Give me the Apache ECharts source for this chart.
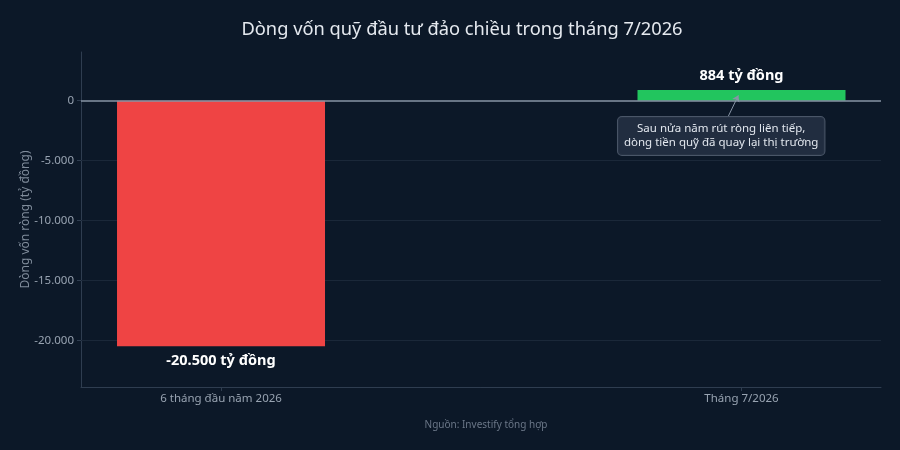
<!DOCTYPE html>
<html><head><meta charset="utf-8">
<script src="https://cdn.jsdelivr.net/npm/echarts@6/dist/echarts.min.js"></script>
<style>html,body{margin:0;padding:0;background:#0c1828;}#c{width:900px;height:450px;}</style>
</head><body><div id="c"></div>
<script>
const categories = ['6 tháng đầu năm 2026', 'Tháng 7/2026'];
const values = [-20500, 884];
const valueLabels = ['-20.500 tỷ đồng', '884 tỷ đồng'];
const yTicks = [-20000, -15000, -10000, -5000, 0];
const titleText = 'Dòng vốn quỹ đầu tư đảo chiều trong tháng 7/2026';
const yAxisTitle = 'Dòng vốn ròng (tỷ đồng)';
const sourceText = 'Nguồn: Investify tổng hợp';
const noteText = 'Sau nửa năm rút ròng liên tiếp,\ndòng tiền quỹ đã quay lại thị trường';

const FONT = 'Noto Sans';
const fmt = v => {
  const s = Math.abs(v).toString().replace(/\B(?=(\d{3})+(?!\d))/g, '.');
  return (v < 0 ? '-' : '') + s;
};

const chart = echarts.init(document.getElementById('c'));
const barData = values.map((v, i) => ({
  value: [i, v],
  itemStyle: { color: v < 0 ? '#ef4444' : '#22c55e' },
  label: { position: v < 0 ? 'bottom' : 'top', formatter: valueLabels[i] }
}));

chart.setOption({
  backgroundColor: '#0c1828',
  textStyle: { fontFamily: FONT },
  title: [
    { text: titleText, left: 457, top: 16, textAlign: 'center',
      textStyle: { color: '#e5e9ef', fontSize: 18.3, fontWeight: 'normal', fontFamily: FONT } },
    { text: sourceText, left: 481, top: 415, textAlign: 'center',
      textStyle: { color: '#6b7788', fontSize: 10, fontWeight: 'normal', fontFamily: FONT } }
  ],
  grid: { left: 81, right: 19, top: 52, bottom: 63 },
  xAxis: {
    type: 'value', min: -0.269, max: 1.268,
    axisLine: { show: true, onZero: false, lineStyle: { color: '#2f3d50', width: 1 } },
    axisTick: { show: true, customValues: [0, 1], length: 4, lineStyle: { color: '#2f3d50' } },
    axisLabel: { customValues: [0, 1], formatter: v => categories[Math.round(v)] || '',
      color: '#98a3b1', fontSize: 11.5, margin: 6, fontFamily: FONT },
    splitLine: { show: false }
  },
  yAxis: {
    type: 'value', min: -23900, max: 4060,
    name: yAxisTitle, nameLocation: 'middle', nameGap: 49, nameMoveOverlap: false,
    nameTextStyle: { color: '#7f8b9a', fontSize: 12, fontFamily: FONT },
    axisLine: { show: true, onZero: false, lineStyle: { color: '#2f3d50', width: 1 } },
    axisTick: { show: true, customValues: yTicks, length: 4, lineStyle: { color: '#2f3d50' } },
    axisLabel: { customValues: yTicks, formatter: v => fmt(v), color: '#98a3b1', fontSize: 11.5, margin: 7, fontFamily: FONT },
    splitLine: { show: false }
  },
  series: [
    {
      type: 'line', data: [], z: 1, silent: true,
      markLine: {
        z: 1, silent: true, symbol: ['none', 'none'], label: { show: false },
        lineStyle: { color: '#1b2839', width: 1, type: 'solid' },
        data: yTicks.filter(t => t !== 0).map(t => ({ yAxis: t }))
      }
    },
    {
      type: 'bar', data: barData, barWidth: 208, z: 3,
      label: { show: true, color: '#ffffff', fontSize: 14.5, fontWeight: 'bold', distance: 7, fontFamily: FONT },
      markPoint: {
        z: 6,
        symbol: 'rect', symbolSize: 1, itemStyle: { color: 'rgba(0,0,0,0)' },
        label: {
          show: true, position: 'inside', formatter: noteText,
          color: '#e2e7ee', fontSize: 11.5, lineHeight: 14, fontFamily: FONT, align: 'center',
          backgroundColor: 'rgba(36,48,66,0.92)', borderColor: '#4a5668', borderWidth: 1,
          borderRadius: 4, padding: [5, 6]
        },
        data: [{ coord: [0.961, -2950] }]
      }
    },
    {
      type: 'line', data: [], z: 5, silent: true,
      markLine: {
        z: 5, silent: true, label: { show: false },
        data: [
          [{ coord: [-0.269, 0], symbol: 'none' }, { coord: [1.268, 0], symbol: 'none', lineStyle: { color: '#8794a5', width: 1.5 } }],
          [{ coord: [0.974, -1360], symbol: 'none' }, { coord: [0.994, 440], symbol: 'arrow', symbolSize: 6, lineStyle: { color: '#8794a5', width: 1 } }]
        ],
        lineStyle: { color: '#8794a5', type: 'solid' }
      }
    }
  ]
});
</script></body></html>
